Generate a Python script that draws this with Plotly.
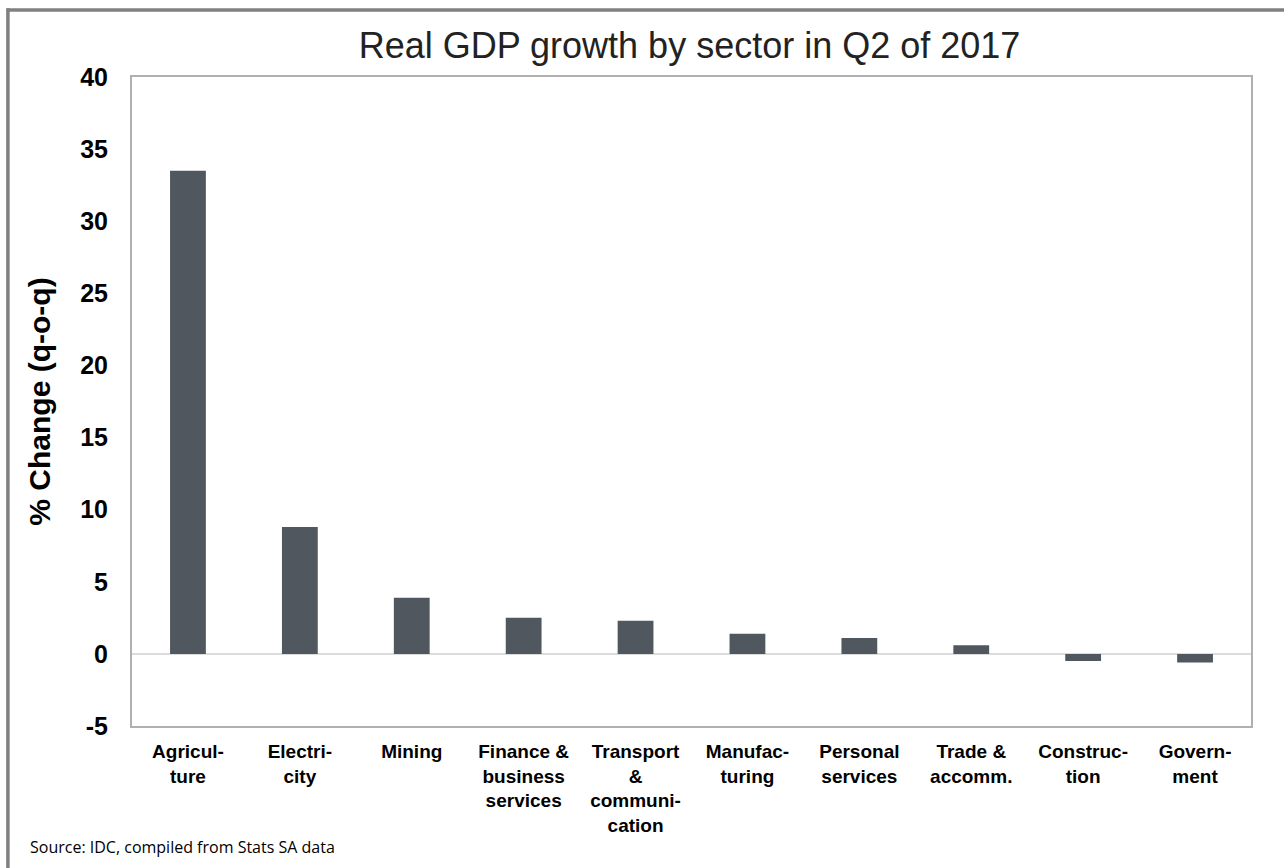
import plotly.graph_objects as go

# Sector labels (hyphenated, multi-line as on the axis)
sectors = [
    "Agricul-<br>ture",
    "Electri-<br>city",
    "Mining",
    "Finance &<br>business<br>services",
    "Transport<br>&<br>communi-<br>cation",
    "Manufac-<br>turing",
    "Personal<br>services",
    "Trade &<br>accomm.",
    "Construc-<br>tion",
    "Govern-<br>ment",
]
# Quarter-on-quarter real GDP growth, %
growth = [33.5, 8.8, 3.9, 2.5, 2.3, 1.4, 1.1, 0.6, -0.5, -0.6]

y_ticks = [-5, 0, 5, 10, 15, 20, 25, 30, 35, 40]

BAR = "#51575f"
AXIS_GREY = "#b0b0b0"
FONT = "Liberation Sans, Arial, sans-serif"

fig = go.Figure(
    go.Bar(
        x=sectors,
        y=growth,
        marker=dict(color=BAR, line=dict(width=0)),
        width=0.32,
        hoverinfo="x+y",
    )
)

fig.update_layout(
    width=1284,
    height=868,
    margin=dict(l=132, r=33, t=77, b=142),
    paper_bgcolor="white",
    plot_bgcolor="white",
    showlegend=False,
    title=dict(
        text="Real GDP growth by sector in Q2 of 2017",
        font=dict(family=FONT, size=36, color="#222222"),
        x=0.537,
        xanchor="center",
        y=0.948,
        yanchor="middle",
    ),
    font=dict(family=FONT, color="#000000"),
)

fig.update_xaxes(
    type="category",
    showline=True,
    linecolor=AXIS_GREY,
    linewidth=2,
    mirror=True,
    showgrid=False,
    ticks="",
    tickfont=dict(family=FONT, size=19, color="#000000", weight="bold"),
    ticklabelstandoff=7,
    tickangle=0,
)

fig.update_yaxes(
    range=[-5, 40],
    tickvals=y_ticks,
    ticktext=[str(v) for v in y_ticks],
    showline=True,
    linecolor=AXIS_GREY,
    linewidth=2,
    mirror=True,
    showgrid=False,
    zeroline=True,
    zerolinecolor="#dcdcdc",
    zerolinewidth=1.5,
    ticks="",
    tickfont=dict(family=FONT, size=25, color="#000000", weight="bold"),
    ticklabelstandoff=17,
    title=dict(
        text="% Change (q-o-q)",
        font=dict(family=FONT, size=30, color="#000000", weight="bold"),
        standoff=21,
    ),
)

# Outer frame of the panel (top and left edges)
fig.add_shape(type="line", xref="paper", yref="paper",
              x0=-0.112, x1=1.04, y0=1.1033, y1=1.1033,
              line=dict(color="#808080", width=3.5))
fig.add_shape(type="line", xref="paper", yref="paper",
              x0=-0.1109, x1=-0.1109, y0=1.106, y1=-0.22,
              line=dict(color="#808080", width=3.5))

fig.add_annotation(
    text="Source: IDC, compiled from Stats SA data",
    xref="paper", yref="paper",
    x=-0.093, y=-0.186,
    xanchor="left", yanchor="middle",
    showarrow=False,
    font=dict(family="Open Sans, Noto Sans, sans-serif", size=16, color="#000000"),
)

fig.write_html("out.html")
